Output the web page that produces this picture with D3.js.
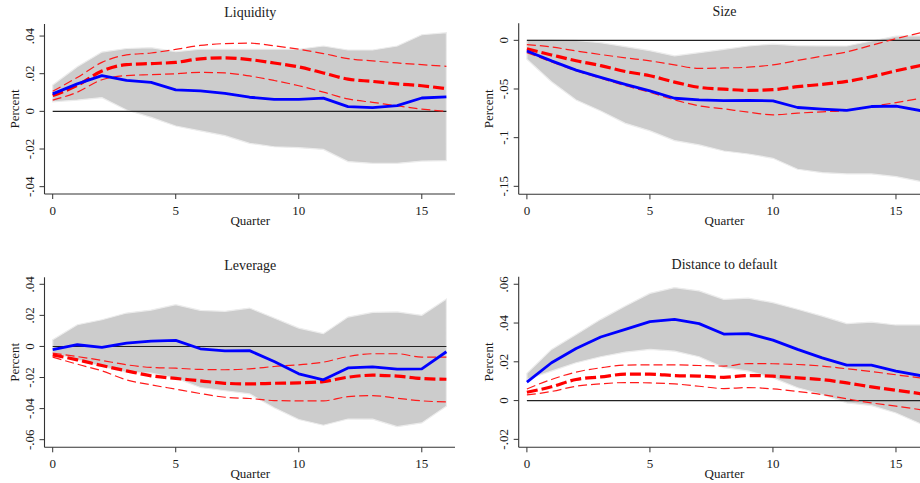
<!DOCTYPE html>
<html>
<head>
<meta charset="utf-8">
<script src="https://cdn.jsdelivr.net/npm/d3@7"></script>
<style>
  html, body { margin: 0; padding: 0; background: #fff; }
  svg { display: block; font-family: "Liberation Serif", "Times New Roman", serif; }
</style>
</head>
<body>
<svg id="chart" width="920" height="483"></svg>
<script>
// Horizon (quarters after the shock)
const quarters = [0, 1, 2, 3, 4, 5, 6, 7, 8, 9, 10, 11, 12, 13, 14, 15, 16];
const xTicks = [0, 5, 10, 15];

// Liquidity
const liquidityIrf  = [0.0093, 0.0146, 0.0190, 0.0164, 0.0154, 0.0114, 0.0109, 0.0096, 0.0075, 0.0064, 0.0064, 0.0070, 0.0025, 0.0020, 0.0030, 0.0071, 0.0077];
const liquidityBandHi = [0.0140, 0.0237, 0.0315, 0.0334, 0.0338, 0.0317, 0.0330, 0.0330, 0.0330, 0.0330, 0.0330, 0.0347, 0.0326, 0.0326, 0.0347, 0.0407, 0.0418];
const liquidityBandLo = [0.0051, 0.0060, 0.0073, 0.0007, -0.0032, -0.0078, -0.0104, -0.0129, -0.0170, -0.0188, -0.0193, -0.0202, -0.0267, -0.0276, -0.0276, -0.0264, -0.0262];
const liquidityAlt   = [0.0084, 0.0138, 0.0214, 0.0248, 0.0254, 0.0260, 0.0279, 0.0284, 0.0275, 0.0257, 0.0236, 0.0204, 0.0171, 0.0159, 0.0146, 0.0136, 0.0120];
const liquidityAltHi = [0.0107, 0.0180, 0.0260, 0.0300, 0.0310, 0.0329, 0.0350, 0.0360, 0.0362, 0.0348, 0.0330, 0.0307, 0.0280, 0.0268, 0.0257, 0.0248, 0.0239];
const liquidityAltLo = [0.0060, 0.0102, 0.0168, 0.0190, 0.0195, 0.0200, 0.0207, 0.0204, 0.0188, 0.0164, 0.0136, 0.0102, 0.0066, 0.0048, 0.0029, 0.0012, 0.0000];
const liquidityTicks = [0.04, 0.02, 0, -0.02, -0.04];
const liquidityTickLabels = [".04", ".02", "0", "-.02", "-.04"];

// Size
const sizeIrf    = [-0.0109, -0.0211, -0.0306, -0.0380, -0.0452, -0.0520, -0.0595, -0.0612, -0.0619, -0.0616, -0.0622, -0.0690, -0.0707, -0.0720, -0.0680, -0.0677, -0.0722];
const sizeBandHi = [0.0005, 0.0005, 0.0000, -0.0024, -0.0065, -0.0106, -0.0160, -0.0127, -0.0092, -0.0058, -0.0038, -0.0055, -0.0057, -0.0058, -0.0007, 0.0044, 0.0048];
const sizeBandLo = [-0.0195, -0.0425, -0.0613, -0.0726, -0.0853, -0.0930, -0.1030, -0.1075, -0.1137, -0.1168, -0.1212, -0.1325, -0.1360, -0.1373, -0.1373, -0.1400, -0.1450];
const sizeAlt    = [-0.0088, -0.0150, -0.0210, -0.0260, -0.0320, -0.0364, -0.0429, -0.0483, -0.0502, -0.0514, -0.0507, -0.0476, -0.0452, -0.0422, -0.0374, -0.0313, -0.0259];
const sizeAltHi  = [-0.0044, -0.0068, -0.0109, -0.0146, -0.0180, -0.0211, -0.0252, -0.0289, -0.0284, -0.0276, -0.0252, -0.0207, -0.0163, -0.0119, -0.0051, 0.0017, 0.0078];
const sizeAltLo  = [-0.0126, -0.0221, -0.0313, -0.0390, -0.0466, -0.0534, -0.0612, -0.0673, -0.0704, -0.0738, -0.0765, -0.0748, -0.0735, -0.0720, -0.0680, -0.0640, -0.0595];
const sizeTicks = [0, -0.05, -0.1, -0.15];
const sizeTickLabels = ["0", "-.05", "-.1", "-.15"];

// Leverage
const leverageIrf    = [-0.0021, 0.0011, -0.0006, 0.0021, 0.0034, 0.0039, -0.0015, -0.0028, -0.0027, -0.0097, -0.0176, -0.0215, -0.0138, -0.0131, -0.0146, -0.0144, -0.0034];
const leverageBandHi = [0.0043, 0.0140, 0.0172, 0.0215, 0.0234, 0.0269, 0.0232, 0.0226, 0.0247, 0.0183, 0.0118, 0.0082, 0.0189, 0.0219, 0.0222, 0.0200, 0.0305];
const leverageBandLo = [-0.0040, -0.0086, -0.0129, -0.0167, -0.0172, -0.0204, -0.0264, -0.0285, -0.0305, -0.0395, -0.0470, -0.0507, -0.0467, -0.0468, -0.0516, -0.0492, -0.0384];
const leverageAlt    = [-0.0054, -0.0086, -0.0123, -0.0157, -0.0189, -0.0206, -0.0221, -0.0237, -0.0241, -0.0237, -0.0234, -0.0226, -0.0198, -0.0185, -0.0191, -0.0206, -0.0211];
const leverageAltHi  = [-0.0043, -0.0065, -0.0090, -0.0118, -0.0135, -0.0140, -0.0148, -0.0150, -0.0144, -0.0129, -0.0118, -0.0101, -0.0065, -0.0047, -0.0047, -0.0069, -0.0069];
const leverageAltLo  = [-0.0069, -0.0114, -0.0157, -0.0215, -0.0247, -0.0275, -0.0303, -0.0327, -0.0335, -0.0348, -0.0350, -0.0350, -0.0323, -0.0316, -0.0333, -0.0350, -0.0357];
const leverageTicks = [0.04, 0.02, 0, -0.02, -0.04, -0.06];
const leverageTickLabels = [".04", ".02", "0", "-.02", "-.04", "-.06"];

// Distance to default
const dtdIrf    = [0.0095, 0.0195, 0.0269, 0.0328, 0.0367, 0.0407, 0.0419, 0.0397, 0.0343, 0.0345, 0.0312, 0.0264, 0.0220, 0.0183, 0.0183, 0.0152, 0.0129];
const dtdBandHi = [0.0140, 0.0264, 0.0341, 0.0419, 0.0488, 0.0553, 0.0583, 0.0566, 0.0522, 0.0528, 0.0505, 0.0471, 0.0436, 0.0397, 0.0405, 0.0390, 0.0390];
const dtdBandLo = [0.0109, 0.0152, 0.0195, 0.0226, 0.0250, 0.0264, 0.0255, 0.0226, 0.0170, 0.0152, 0.0117, 0.0066, 0.0031, -0.0012, -0.0026, -0.0064, -0.0120];
const dtdAlt    = [0.0043, 0.0071, 0.0109, 0.0122, 0.0136, 0.0136, 0.0129, 0.0126, 0.0120, 0.0129, 0.0126, 0.0117, 0.0108, 0.0091, 0.0071, 0.0053, 0.0036];
const dtdAltHi  = [0.0060, 0.0109, 0.0147, 0.0169, 0.0183, 0.0184, 0.0184, 0.0181, 0.0178, 0.0191, 0.0190, 0.0186, 0.0178, 0.0164, 0.0150, 0.0133, 0.0117];
const dtdAltLo  = [0.0029, 0.0047, 0.0074, 0.0086, 0.0093, 0.0091, 0.0086, 0.0074, 0.0062, 0.0067, 0.0060, 0.0047, 0.0031, 0.0009, -0.0012, -0.0029, -0.0047];
const dtdTicks = [0.06, 0.04, 0.02, 0, -0.02];
const dtdTickLabels = [".06", ".04", ".02", "0", "-.02"];

const panels = [
  { title: "Liquidity", left: 44.5, top: 24, bottom: 194, yDomain: [-0.0439, 0.0464],
    irf: liquidityIrf, hi: liquidityBandHi, lo: liquidityBandLo, alt: liquidityAlt, altHi: liquidityAltHi, altLo: liquidityAltLo,
    ticks: liquidityTicks, tickLabels: liquidityTickLabels },
  { title: "Size", left: 518.7, top: 23.3, bottom: 194.3, yDomain: [-0.1582, 0.0175],
    irf: sizeIrf, hi: sizeBandHi, lo: sizeBandLo, alt: sizeAlt, altHi: sizeAltHi, altLo: sizeAltLo,
    ticks: sizeTicks, tickLabels: sizeTickLabels },
  { title: "Leverage", left: 44.5, top: 277.3, bottom: 447.3, yDomain: [-0.0649, 0.0445],
    irf: leverageIrf, hi: leverageBandHi, lo: leverageBandLo, alt: leverageAlt, altHi: leverageAltHi, altLo: leverageAltLo,
    ticks: leverageTicks, tickLabels: leverageTickLabels },
  { title: "Distance to default", left: 518.7, top: 276.7, bottom: 447.3, yDomain: [-0.0241, 0.0639],
    irf: dtdIrf, hi: dtdBandHi, lo: dtdBandLo, alt: dtdAlt, altHi: dtdAltHi, altLo: dtdAltLo,
    ticks: dtdTicks, tickLabels: dtdTickLabels }
];

const svg = d3.select("#chart");
svg.append("rect").attr("width", 920).attr("height", 483).attr("fill", "#fff");

const plotWidth = 410.5;
const axisColor = "#333";
const textColor = "#1a1a1a";

panels.forEach(p => {
  const g = svg.append("g");
  const x = d3.scaleLinear().domain([-0.333, 16.35]).range([p.left, p.left + plotWidth]);
  const y = d3.scaleLinear().domain(p.yDomain).range([p.bottom, p.top]);
  const cx = p.left + plotWidth / 2 + 0.5;

  // confidence band
  const area = d3.area()
    .x((d, i) => x(quarters[i]))
    .y0((d, i) => y(p.lo[i]))
    .y1((d, i) => y(p.hi[i]));
  g.append("path").datum(p.hi).attr("d", area)
    .attr("fill", "#cccccc").attr("stroke", "#ececec").attr("stroke-width", 1.2);

  // zero reference line
  g.append("line")
    .attr("x1", x(quarters[0])).attr("x2", x(quarters[quarters.length - 1]))
    .attr("y1", y(0)).attr("y2", y(0))
    .attr("stroke", "#222").attr("stroke-width", 1.1);

  const smooth = d3.line().x((d, i) => x(quarters[i])).y(d => y(d)).curve(d3.curveMonotoneX);
  const straight = d3.line().x((d, i) => x(quarters[i])).y(d => y(d));

  // alternative response with its own interval
  [p.altHi, p.altLo].forEach(s => {
    g.append("path").datum(s).attr("d", smooth)
      .attr("fill", "none").attr("stroke", "#ff1a1a").attr("stroke-width", 1.2)
      .attr("stroke-dasharray", "9,4");
  });
  g.append("path").datum(p.alt).attr("d", smooth)
    .attr("fill", "none").attr("stroke", "#ff0000").attr("stroke-width", 3.2)
    .attr("stroke-dasharray", "11,4");

  // baseline response
  g.append("path").datum(p.irf).attr("d", straight)
    .attr("fill", "none").attr("stroke", "#0000ff").attr("stroke-width", 2.8)
    .attr("stroke-linejoin", "round");

  // axes
  const yAxis = g.append("g");
  yAxis.append("line").attr("x1", p.left).attr("x2", p.left)
    .attr("y1", p.top).attr("y2", p.bottom).attr("stroke", axisColor).attr("stroke-width", 1.1);
  p.ticks.forEach((t, i) => {
    yAxis.append("line").attr("x1", p.left - 5).attr("x2", p.left)
      .attr("y1", y(t)).attr("y2", y(t)).attr("stroke", axisColor).attr("stroke-width", 1);
    yAxis.append("text")
      .attr("transform", `translate(${p.left - 15},${y(t)}) rotate(-90)`)
      .attr("text-anchor", "middle").attr("dy", "0.35em")
      .attr("font-size", 13).attr("fill", textColor)
      .text(p.tickLabels[i]);
  });

  const xAxis = g.append("g");
  xAxis.append("line").attr("x1", p.left).attr("x2", p.left + plotWidth)
    .attr("y1", p.bottom).attr("y2", p.bottom).attr("stroke", axisColor).attr("stroke-width", 1.1);
  xTicks.forEach(t => {
    xAxis.append("line").attr("x1", x(t)).attr("x2", x(t))
      .attr("y1", p.bottom).attr("y2", p.bottom + 5).attr("stroke", axisColor).attr("stroke-width", 1);
    xAxis.append("text").attr("x", x(t)).attr("y", p.bottom + 21)
      .attr("text-anchor", "middle").attr("font-size", 13).attr("fill", textColor)
      .text(t);
  });

  // labels
  g.append("text").attr("x", cx).attr("y", p.bottom + 31)
    .attr("text-anchor", "middle").attr("font-size", 13).attr("fill", textColor).text("Quarter");
  g.append("text")
    .attr("transform", `translate(${p.left - 30},${(p.top + p.bottom) / 2}) rotate(-90)`)
    .attr("text-anchor", "middle").attr("dy", "0.35em")
    .attr("font-size", 13).attr("fill", textColor).text("Percent");
  g.append("text").attr("x", cx).attr("y", p.top - 7.5)
    .attr("text-anchor", "middle").attr("font-size", 14).attr("fill", textColor).text(p.title);
});
</script>
</body>
</html>
